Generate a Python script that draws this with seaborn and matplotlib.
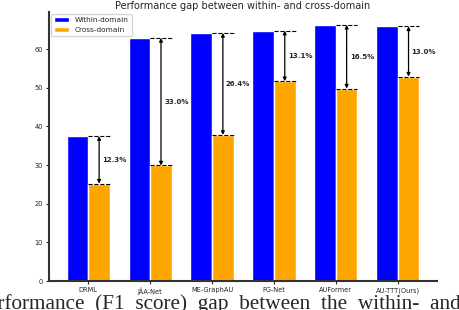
import matplotlib
matplotlib.use("Agg")
import matplotlib.pyplot as plt
import seaborn as sns
import pandas as pd

methods = ["DRML", "JÂA-Net", "ME-GraphAU", "FG-Net", "AUFormer", "AU-TTT(Ours)"]
within = [37.5, 62.9, 64.2, 64.8, 66.3, 65.9]
cross = [25.2, 29.9, 37.8, 51.7, 49.8, 52.9]
domains = ["Within-domain", "Cross-domain"]
caption_words = ["Performance", "(F1", "score)", "gap", "between", "the", "within-", "and"]

df = pd.DataFrame({
    "method": methods * 2,
    "score": within + cross,
    "domain": [domains[0]] * len(methods) + [domains[1]] * len(methods),
})

sns.set_style("ticks")
plt.rcParams["font.family"] = ["DejaVu Sans"]

fig = plt.figure(figsize=(4.6, 3.1), dpi=100)
ax = fig.add_axes([0.1065, 0.0935, 0.8435, 0.8675])

width = 0.7
sns.barplot(data=df, x="method", y="score", hue="domain", palette=["blue", "orange"],
            saturation=1, width=width, ax=ax)

# gap annotations over the cross-domain bar
half = width / 4
for i, (w, c) in enumerate(zip(within, cross)):
    x = i + half
    ax.hlines([w, c], x - half, x + half, colors="black", linestyles="dashed", lw=0.8)
    ax.annotate("", xy=(x, c), xytext=(x, w),
                arrowprops=dict(arrowstyle="<|-|>", color="black", lw=0.9,
                                mutation_scale=5, shrinkA=0, shrinkB=0))
    ax.text(x + 0.05, (w + c) / 2, f"{w - c:.1f}%", fontsize=5, fontweight="bold",
            va="center", ha="left")

ax.set_xlim(-0.635, 5.635)
ax.set_ylim(0, 69.6)
ax.set_xlabel("")
ax.set_ylabel("")
ax.set_title("Performance gap between within- and cross-domain", fontsize=7, pad=2)
ax.tick_params(axis="both", labelsize=4.8, length=2.5, width=0.8, pad=2)
for s in ["top", "right"]:
    ax.spines[s].set_visible(False)
for s in ["left", "bottom"]:
    ax.spines[s].set_linewidth(1.5)
    ax.spines[s].set_color("#333333")

handles, labels = ax.get_legend_handles_labels()
ax.legend(handles, labels, loc="upper left", fontsize=5.3, frameon=True,
          borderaxespad=0.3)

# justified caption line under the figure (wide word spacing)
fig.text(-0.052, 0.004, "  ".join(caption_words),
         family=["Liberation Serif", "DejaVu Serif"], fontsize=15.3,
         ha="left", va="baseline")

fig.savefig("out.png", dpi=100)
